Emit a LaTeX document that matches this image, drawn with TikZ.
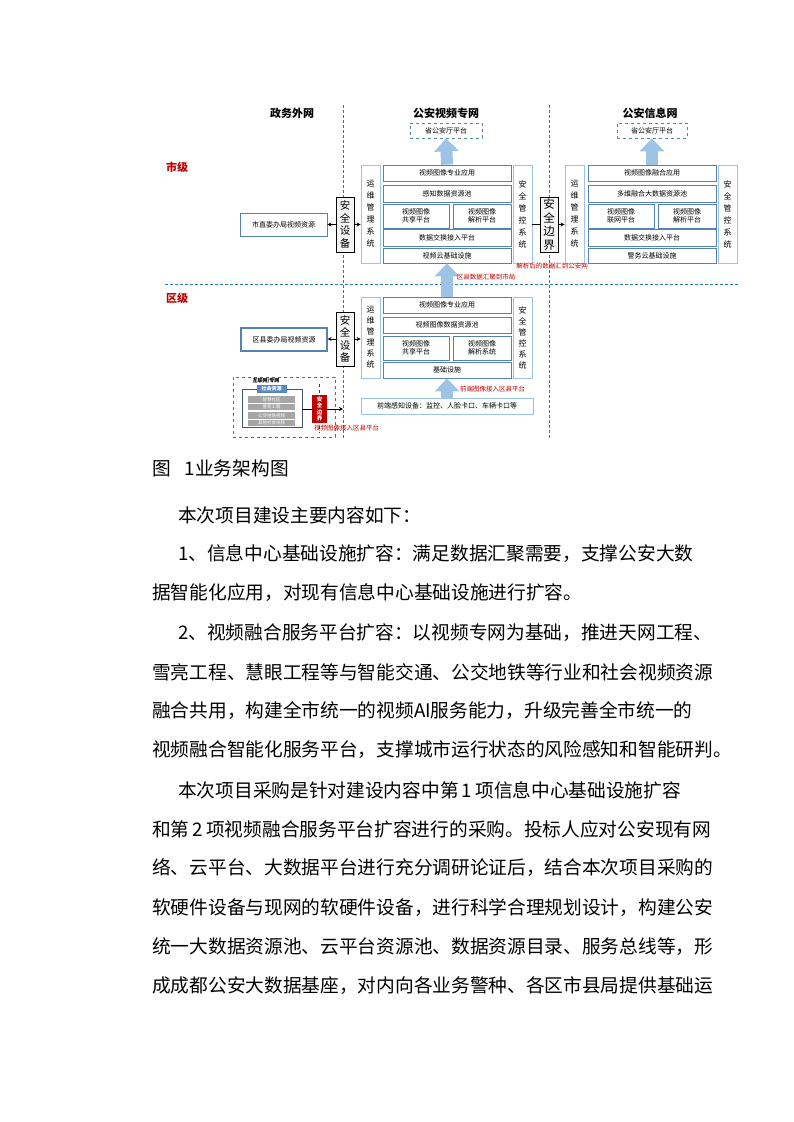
\documentclass[tikz,border=0pt]{standalone}
\usepackage{fontspec}
\setmainfont{Noto Sans CJK SC}
\usetikzlibrary{arrows.meta}

\definecolor{lineblue}{RGB}{84,130,180}
\definecolor{paleblue}{RGB}{157,195,230}
\definecolor{arrowblue}{RGB}{157,195,230}
\definecolor{darkred}{RGB}{192,0,0}
\definecolor{dashblue}{RGB}{46,117,182}
\definecolor{darkslate}{RGB}{68,84,106}
\definecolor{labelblue}{RGB}{91,138,198}

\begin{document}
\begin{tikzpicture}[x=1pt, y=-1pt,
    blk/.style={draw=lineblue, line width=0.8pt, fill=white, inner sep=0pt, align=center, font=\fontsize{7}{8}\selectfont},
    side/.style={draw=paleblue, line width=0.8pt, fill=white, inner sep=0pt, minimum width=19pt, align=center, font=\fontsize{8}{12}\selectfont},
    guard/.style={draw=black, line width=0.6pt, fill=gray!8, inner sep=0pt, minimum width=18pt, minimum height=55pt, align=center, font=\fontsize{10.5}{12.5}\selectfont},
    platform/.style={draw=lineblue, dashed, line width=0.8pt, fill=white, inner sep=0pt, minimum height=15pt, font=\fontsize{7}{8}\selectfont},
    bigarrow/.style={arrowblue, line width=12pt, -{Triangle[width=24pt,length=13pt]}},
    thin/.style={-{Stealth[length=4pt,width=4pt]}, line width=0.8pt},
    netline/.style={dashblue, dash pattern=on 3pt off 2pt, line width=0.9pt},
    note/.style={text=darkred, inner sep=0pt, font=\fontsize{6.5}{7}\selectfont},
    hdr/.style={inner sep=0pt, font=\fontsize{11}{12}\selectfont\bfseries},
    bar/.style={fill=gray!70, text=white, minimum width=47pt, minimum height=6.5pt, inner sep=0pt, font=\fontsize{4.5}{5}\selectfont},
    body/.style={anchor=west, inner sep=0pt, font=\fontsize{18.7}{20}\selectfont}
  ]
  \fill[white] (0,0) rectangle (793,1122);
  \useasboundingbox (0,0) rectangle (793,1122);

  % network borders
  \draw[netline] (343,105) -- (343,438);
  \draw[netline] (549,105) -- (549,438);
  \draw[netline] (165,284) -- (740,284);

  \node[hdr] (zwhdr) at (292,113) {政务外网};
  \node[hdr] (sphdr) at (446,113) {公安视频专网};
  \node[hdr] (xxhdr) at (650,113) {公安信息网};
  \node[hdr, text=darkred] (sj) at (177,167) {市级};
  \node[hdr, text=darkred] (qj) at (177,298) {区级};

  % city level
  \node[blk] (zw1) [minimum width=87pt, minimum height=23pt] at (283.5,224.5) {市直委办局视频资源};
  \node[guard] (sd1) at (345,224.5) {安\\全\\设\\备};

  \node[platform, minimum width=72pt] (pt1) at (446,130.5) {省公安厅平台};
  \node[side, minimum height=98pt] (yw1) at (370.5,214) {运\\维\\管\\理\\系\\统};
  \node[blk, minimum width=128pt, minimum height=16pt] (a1) at (447,173) {视频图像专业应用};
  \node[blk, minimum width=128pt, minimum height=17pt] (b1) at (447,193.5) {感知数据资源池};
  \node[blk, minimum width=66pt, minimum height=24pt] (c1) at (416,216) {视频图像\\共享平台};
  \node[blk, minimum width=58pt, minimum height=24pt] (d1) at (482,216) {视频图像\\解析平台};
  \node[blk, minimum width=128pt, minimum height=17pt] (e1) at (447,237.5) {数据交换接入平台};
  \node[blk, minimum width=128pt, minimum height=15pt] (f1) at (447,255.5) {视频云基础设施};
  \node[side, minimum height=98pt] (ak1) at (522.5,214) {安\\全\\管\\控\\系\\统};

  \node[guard, font=\fontsize{11.5}{13.5}\selectfont] (bj) at (549,224.5) {安\\全\\边\\界};

  \node[platform, minimum width=70pt] (pt2) at (652,130.5) {省公安厅平台};
  \node[side, minimum height=98pt] (yw2) at (574.5,214) {运\\维\\管\\理\\系\\统};
  \node[blk, minimum width=128pt, minimum height=16pt] (a2) at (652,173) {视频图像融合应用};
  \node[blk, minimum width=128pt, minimum height=17pt] (b2) at (652,194) {多维融合大数据资源池};
  \node[blk, minimum width=66pt, minimum height=24pt] (c2) at (621,216) {视频图像\\联网平台};
  \node[blk, minimum width=58pt, minimum height=24pt] (d2) at (687,216) {视频图像\\解析平台};
  \node[blk, minimum width=128pt, minimum height=17pt] (e2) at (652,237.5) {数据交换接入平台};
  \node[blk, minimum width=128pt, minimum height=15pt] (f2) at (652,255.5) {警务云基础设施};
  \node[side, minimum height=98pt] (ak2) at (727.5,214) {安\\全\\管\\控\\系\\统};

  \draw[bigarrow] (a1.north) -- (pt1.south);
  \draw[bigarrow] (a2.north) -- (pt2.south);
  \draw[thin] (sd1.west) -- (zw1.east);
  \draw[thin] (sd1.east) -- (yw1.west |- sd1.east);
  \draw[line width=0.8pt] (ak1.east |- bj.west) -- (bj.west);
  \draw[thin] (bj.east) -- (yw2.west |- bj.east);
  \node[note] (t1) at (552,266) {解析后的数据汇到公安网};

  % district level
  \node[blk, line width=1.1pt] (zw2) [minimum width=86pt, minimum height=23pt] at (284,339.5) {区县委办局视频资源};
  \node[guard, minimum height=54pt] (sd2) at (345,339) {安\\全\\设\\备};

  \node[side, minimum height=81pt, font=\fontsize{8}{11}\selectfont] (yw3) at (370.5,337.5) {运\\维\\管\\理\\系\\统};
  \node[blk, minimum width=128pt, minimum height=16pt] (a3) at (447,305) {视频图像专业应用};
  \node[blk, minimum width=128pt, minimum height=16pt] (b3) at (447,325) {视频图像数据资源池};
  \node[blk, minimum width=66pt, minimum height=24pt] (c3) at (416,348) {视频图像\\共享平台};
  \node[blk, minimum width=58pt, minimum height=24pt] (d3) at (482,348) {视频图像\\解析系统};
  \node[blk, minimum width=128pt, minimum height=16pt] (e3) at (447,370) {基础设施};
  \node[side, minimum height=81pt, font=\fontsize{8}{11}\selectfont] (ak3) at (522.5,337.5) {安\\全\\管\\控\\系\\统};
  \node[blk, draw=paleblue, minimum width=172pt, minimum height=16pt] (qd) at (447,406) {前端感知设备：监控、人脸卡口、车辆卡口等};

  \draw[bigarrow] (a3.north) -- (f1.south);
  \draw[bigarrow] (qd.north) -- (e3.south);
  \node[note] (t2) at (486,277.5) {区县数据汇聚到市局};
  \node[note, anchor=west] (t3) at (460,389) {前端图像接入区县平台};
  \draw[thin] (sd2.west) -- (zw2.east |- sd2.west);
  \draw[thin] (sd2.east) -- (yw3.west |- sd2.east);

  % social video block
  \node[draw=dashblue, dashed, line width=0.8pt, minimum width=102pt, minimum height=60pt, inner sep=0pt] (hl) at (284,407) {};
  \node[inner sep=0pt, font=\fontsize{5}{6}\selectfont\bfseries] (hlt) at (266,380.5) {互联网/专网};
  \node[draw=darkslate, line width=0.8pt, minimum width=60pt, minimum height=38pt, inner sep=0pt] (sh) at (272,408) {};
  \node[fill=labelblue, draw=lineblue, text=white, minimum width=29pt, minimum height=7pt, inner sep=0pt, font=\fontsize{5}{6}\selectfont\bfseries] (shl) at (271.5,389) {社会资源};
  \node[bar] (g1) at (271.5,399.5) {智慧社区};
  \node[bar] (g2) at (271.5,407) {雪亮工程};
  \node[bar] (g3) at (271.5,415.5) {公交地铁视频};
  \node[bar] (g4) at (271.5,423) {其他社会视频};
  \draw[darkred, dashed, line width=0.5pt] (319.5,384) -- (319.5,433);
  \node[fill=darkred, text=white, minimum width=15pt, minimum height=28pt, inner sep=0pt, align=center, font=\fontsize{5.5}{6.5}\selectfont\bfseries] (rb) at (319.5,409) {安\\全\\边\\界};
  \coordinate (gate) at (343,409);
  \draw[line width=0.8pt] (sh.east |- rb.west) -- (rb.west);
  \draw[thin] (rb.east) -- (gate);
  \node[note, anchor=west] (t4) at (314,428) {视频图像接入区县平台};

  % text below the figure
  \node[body] (cap) at (152,468) {图\hspace{14pt}1业务架构图};
  \node[body] (p1) at (178,515) {本次项目建设主要内容如下：};
  \node[body] (p2) at (178,554) {1、信息中心基础设施扩容：满足数据汇聚需要，支撑公安大数};
  \node[body] (p3) at (152,593) {据智能化应用，对现有信息中心基础设施进行扩容。};
  \node[body] (p4) at (178,633) {2、视频融合服务平台扩容：以视频专网为基础，推进天网工程、};
  \node[body] (p5) at (152,672) {雪亮工程、慧眼工程等与智能交通、公交地铁等行业和社会视频资源};
  \node[body] (p6) at (152,711) {融合共用，构建全市统一的视频AI服务能力，升级完善全市统一的};
  \node[body] (p7) at (152,750) {视频融合智能化服务平台，支撑城市运行状态的风险感知和智能研判。};
  \node[body] (p8) at (178,790) {本次项目采购是针对建设内容中第\,1\,项信息中心基础设施扩容};
  \node[body] (p9) at (152,829) {和第\,2\,项视频融合服务平台扩容进行的采购。投标人应对公安现有网};
  \node[body] (p10) at (152,868) {络、云平台、大数据平台进行充分调研论证后，结合本次项目采购的};
  \node[body] (p11) at (152,908) {软硬件设备与现网的软硬件设备，进行科学合理规划设计，构建公安};
  \node[body] (p12) at (152,947) {统一大数据资源池、云平台资源池、数据资源目录、服务总线等，形};
  \node[body] (p13) at (152,986) {成成都公安大数据基座，对内向各业务警种、各区市县局提供基础运};
\end{tikzpicture}
\end{document}
